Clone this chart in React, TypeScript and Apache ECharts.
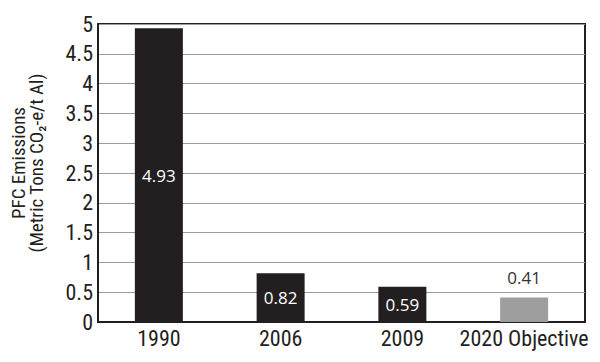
import React, { useEffect, useRef } from "react";
import * as echarts from "echarts";

const categories = ["1990", "2006", "2009", "2020 Objective"];
const values = [4.93, 0.82, 0.59, 0.41];
const barColors = ["#231f20", "#231f20", "#231f20", "#9e9e9e"];
const labelPositions = ["inside", "inside", "inside", "top"];
const labelColors = ["#ffffff", "#ffffff", "#ffffff", "#333333"];

const condensed = "'Liberation Sans Narrow', 'Arial Narrow', 'Roboto Condensed', sans-serif";

export default function App() {
  const ref = useRef<HTMLDivElement>(null);
  useEffect(() => {
    if (!ref.current) return;
    const chart = echarts.init(ref.current, undefined, { renderer: "svg" });
    chart.setOption({
      animation: false,
      grid: {
        left: 98,
        right: 15,
        top: 24,
        bottom: 40,
        show: true,
        borderColor: "#231f20",
        borderWidth: 2,
      },
      xAxis: {
        type: "category",
        data: categories,
        axisLine: { show: true, lineStyle: { color: "#231f20", width: 2 } },
        axisTick: { show: false },
        axisLabel: {
          color: "#231f20",
          fontSize: 22,
          fontFamily: condensed,
          margin: 5,
          interval: 0,
        },
      },
      yAxis: {
        type: "value",
        min: 0,
        max: 5,
        interval: 0.5,
        name: "PFC Emissions\n(Metric Tons CO₂-e/t Al)",
        nameLocation: "middle",
        nameGap: 53,
        nameTextStyle: {
          color: "#231f20",
          fontSize: 19,
          fontFamily: condensed,
          lineHeight: 18,
          padding: [0, 0, 0, 20],
        },
        axisLine: { show: true, lineStyle: { color: "#231f20", width: 2 } },
        axisTick: { show: false },
        axisLabel: {
          color: "#231f20",
          fontSize: 22,
          fontFamily: condensed,
          margin: 5,
        },
        splitLine: { show: true, lineStyle: { color: "#9a9a9a", width: 1 } },
      },
      series: [
        {
          type: "bar",
          barWidth: 48,
          data: values.map((v, i) => ({
            value: v,
            itemStyle: { color: barColors[i] },
            label: {
              show: true,
              position: labelPositions[i],
              color: labelColors[i],
              fontSize: 17,
              fontFamily: "'Open Sans', sans-serif",
              distance: 12,
              formatter: (p: any) => p.value.toFixed(2),
            },
          })),
        },
      ],
    });
    return () => chart.dispose();
  }, []);
  return <div ref={ref} style={{ width: 600, height: 362, margin: -8 }} />;
}
